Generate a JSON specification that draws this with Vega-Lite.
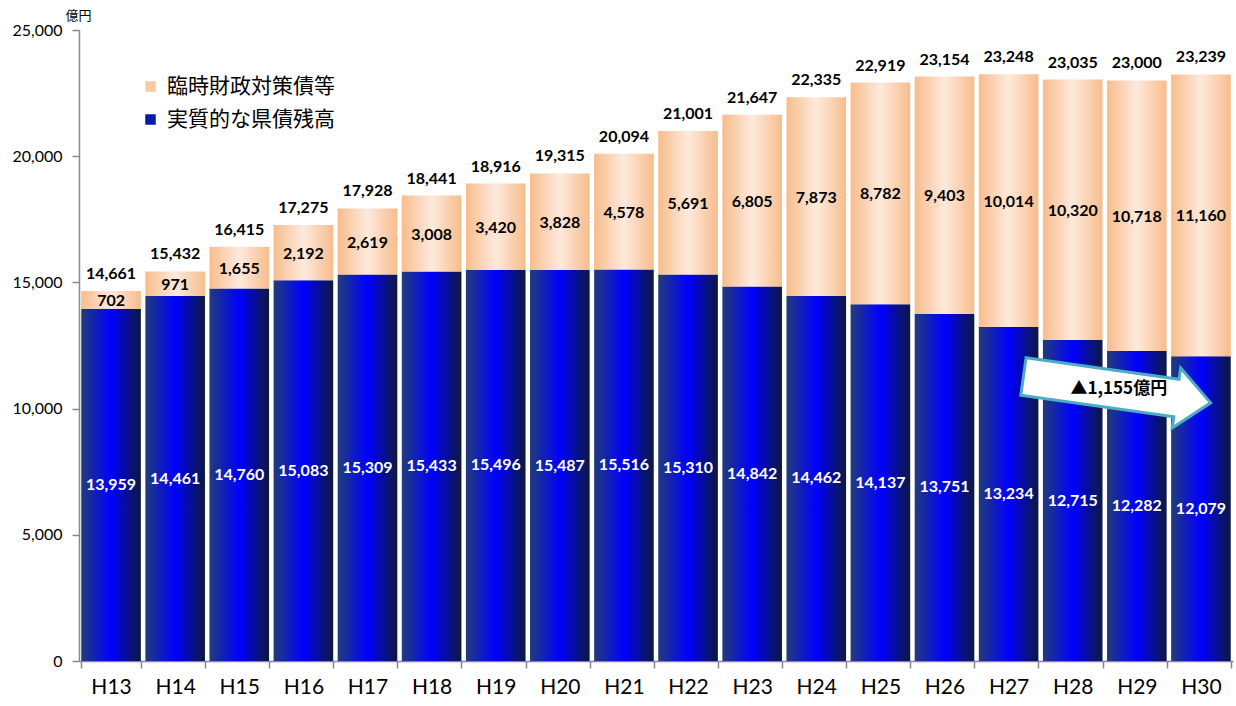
{
  "$schema": "https://vega.github.io/schema/vega-lite/v6.json",
  "width": 1154,
  "height": 631,
  "autosize": {"type": "none"},
  "padding": {"left": 79, "top": 30, "right": 3, "bottom": 45},
  "background": "white",
  "config": {"view": {"stroke": null}, "font": "Lato"},
  "datasets": {
    "main": [
      {"year": "H13", "real": 13959, "temp": 702, "total": 14661},
      {"year": "H14", "real": 14461, "temp": 971, "total": 15432},
      {"year": "H15", "real": 14760, "temp": 1655, "total": 16415},
      {"year": "H16", "real": 15083, "temp": 2192, "total": 17275},
      {"year": "H17", "real": 15309, "temp": 2619, "total": 17928},
      {"year": "H18", "real": 15433, "temp": 3008, "total": 18441},
      {"year": "H19", "real": 15496, "temp": 3420, "total": 18916},
      {"year": "H20", "real": 15487, "temp": 3828, "total": 19315},
      {"year": "H21", "real": 15516, "temp": 4578, "total": 20094},
      {"year": "H22", "real": 15310, "temp": 5691, "total": 21001},
      {"year": "H23", "real": 14842, "temp": 6805, "total": 21647},
      {"year": "H24", "real": 14462, "temp": 7873, "total": 22335},
      {"year": "H25", "real": 14137, "temp": 8782, "total": 22919},
      {"year": "H26", "real": 13751, "temp": 9403, "total": 23154},
      {"year": "H27", "real": 13234, "temp": 10014, "total": 23248},
      {"year": "H28", "real": 12715, "temp": 10320, "total": 23035},
      {"year": "H29", "real": 12282, "temp": 10718, "total": 23000},
      {"year": "H30", "real": 12079, "temp": 11160, "total": 23239}
    ]
  },
  "data": {"name": "main"},
  "resolve": {"scale": {"y": "independent"}},
  "layer": [
    {
      "layer": [
        {
          "mark": {
            "type": "bar",
            "fill": {
              "gradient": "linear", "x1": 0, "x2": 1, "y1": 0, "y2": 0,
              "stops": [
                {"offset": 0, "color": "#223c78"},
                {"offset": 0.5, "color": "#0000ff"},
                {"offset": 1, "color": "#0c1a3e"}
              ]
            }
          },
          "encoding": {
            "x": {
              "field": "year", "type": "nominal",
              "scale": {"paddingInner": 0.07, "paddingOuter": 0.035},
              "axis": {
                "title": null, "labelAngle": 0, "labelFontSize": 21, "labelColor": "#000",
                "tickBand": "extent", "tickSize": 7, "tickColor": "#888", "domainColor": "#888",
                "domainWidth": 1.5, "tickWidth": 1.5, "labelPadding": 8
              }
            },
            "y": {
              "field": "real", "type": "quantitative",
              "scale": {"domain": [0, 25000], "nice": false},
              "axis": {
                "title": "億円", "titleAngle": 0, "titleAlign": "left", "titleBaseline": "middle",
                "titleX": -14, "titleY": -15, "titleFont": "Noto Sans CJK JP", "titleFontSize": 13,
                "titleFontWeight": "normal", "titleColor": "#000",
                "values": [0, 5000, 10000, 15000, 20000, 25000], "format": ",.0f",
                "grid": false, "labelFontSize": 16, "labelColor": "#000", "labelPadding": 10,
                "tickSize": 7, "tickColor": "#888", "domainColor": "#888", "domainWidth": 1.5, "tickWidth": 1.5
              }
            }
          }
        },
        {
          "mark": {
            "type": "bar",
            "fill": {
              "gradient": "linear", "x1": 0, "x2": 1, "y1": 0, "y2": 0,
              "stops": [
                {"offset": 0, "color": "#f8bc8c"},
                {"offset": 0.5, "color": "#fdeadc"},
                {"offset": 1, "color": "#f8bc8c"}
              ]
            }
          },
          "encoding": {
            "x": {"field": "year", "type": "nominal"},
            "y": {"field": "real", "type": "quantitative"},
            "y2": {"field": "total"}
          }
        },
        {
          "mark": {"type": "text", "fontWeight": "bold", "fontSize": 16, "color": "#000", "baseline": "alphabetic", "dy": -12},
          "encoding": {
            "x": {"field": "year", "type": "nominal"},
            "y": {"field": "total", "type": "quantitative"},
            "text": {"field": "total", "type": "quantitative", "format": ","}
          }
        },
        {
          "transform": [{"fold": ["real", "total"], "as": ["k", "v"]}],
          "mark": {"type": "text", "fontWeight": "bold", "fontSize": 16, "color": "#000", "baseline": "middle", "dy": 1},
          "encoding": {
            "x": {"field": "year", "type": "nominal"},
            "y": {"aggregate": "mean", "field": "v", "type": "quantitative"},
            "text": {"aggregate": "max", "field": "temp", "type": "quantitative", "format": ","}
          }
        },
        {
          "data": {"values": [{"s": "臨時財政対策債等"}, {"s": "実質的な県債残高"}]},
          "mark": {"type": "point", "shape": "square", "filled": true, "opacity": 0},
          "encoding": {
            "color": {
              "field": "s", "type": "nominal",
              "scale": {"domain": ["臨時財政対策債等", "実質的な県債残高"], "range": ["#f9c9a2", "#0a1aa8"]},
              "legend": {
                "orient": "none", "legendX": 61, "legendY": 46, "title": null,
                "labelFontSize": 21, "labelFont": "Noto Sans CJK JP", "labelColor": "#000", "labelLimit": 400,
                "symbolType": "square", "symbolSize": 110, "symbolOpacity": 1, "symbolStrokeWidth": 0,
                "rowPadding": 11, "padding": 0, "labelOffset": 6
              }
            }
          }
        },
        {
          "data": {"values": [{"year": "H29", "v": 10750, "label": "▲1,155億円"}]},
          "layer": [
            {
              "mark": {
                "type": "point", "filled": true, "fill": "white", "stroke": "#4bacc6", "strokeWidth": 3, "opacity": 1,
                "shape": "M -1 -0.2 L 0.635 -0.2 L 0.635 -0.32 L 1 0 L 0.635 0.32 L 0.635 0.2 L -1 0.2 Z",
                "size": 35721, "angle": 8
              },
              "encoding": {
                "x": {"field": "year", "type": "nominal"},
                "xOffset": {"value": 10},
                "y": {"field": "v", "type": "quantitative"}
              }
            },
            {
              "mark": {"type": "text", "font": "Noto Sans CJK JP", "fontWeight": "bold", "fontSize": 17, "color": "#000", "baseline": "middle", "dx": -18, "dy": -1},
              "encoding": {
                "x": {"field": "year", "type": "nominal"},
                "y": {"field": "v", "type": "quantitative"},
                "text": {"field": "label"}
              }
            }
          ]
        }
      ]
    },
    {
      "mark": {"type": "text", "fontWeight": "bold", "fontSize": 16, "color": "white", "baseline": "middle"},
      "encoding": {
        "x": {"field": "year", "type": "nominal"},
        "y": {"field": "real", "type": "quantitative", "scale": {"domain": [0, 50000], "nice": false}, "axis": null},
        "text": {"field": "real", "type": "quantitative", "format": ","}
      }
    }
  ]
}
